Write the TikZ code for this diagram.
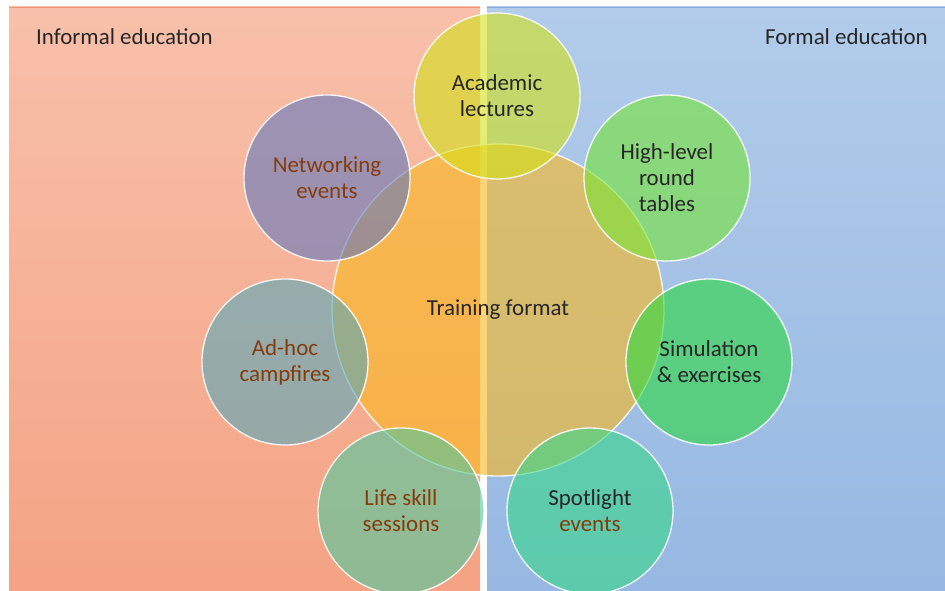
\documentclass[tikz,border=0pt]{standalone}
\usepackage{fontspec}
\setmainfont{Carlito}
\definecolor{dark}{RGB}{38,38,38}
\definecolor{brown}{RGB}{132,60,12}
\definecolor{infTop}{RGB}{248,192,170}
\definecolor{infBot}{RGB}{244,163,132}
\definecolor{forTop}{RGB}{178,204,234}
\definecolor{forBot}{RGB}{150,184,226}
\definecolor{hubC}{RGB}{250,184,30}
\definecolor{acadC}{RGB}{210,225,23}
\definecolor{roundC}{RGB}{117,228,53}
\definecolor{simC}{RGB}{43,217,63}
\definecolor{spotC}{RGB}{55,215,137}
\definecolor{lifeC}{RGB}{78,202,158}
\definecolor{campC}{RGB}{87,168,185}
\definecolor{netC}{RGB}{98,120,190}
\begin{document}
\begin{tikzpicture}[x=1bp, y=-1bp, inner sep=0pt,
      bubble/.style={circle, draw=white, draw opacity=0.9, line width=1.3bp,
        fill opacity=0.6, text opacity=1, align=center, text=dark,
        font=\fontsize{23}{26}\selectfont},
      sat/.style={bubble, minimum size=166bp},
      hub/.style={bubble, minimum size=332bp},
      side/.style={text=dark, font=\fontsize{23}{26}\selectfont}]
      \useasboundingbox (0,0) rectangle (945,591);
      % panels
      \shade[top color=infTop, bottom color=infBot] (9,7) rectangle (480,591);
      \shade[top color=forTop, bottom color=forBot] (487,7) rectangle (945,591);
      \draw[infBot!90!red, line width=0.6bp] (9,7) -- (480,7);
      \draw[forBot!90!blue, line width=0.6bp] (487,7) -- (945,7);
      \node[side, anchor=west] (informal) at (36,37) {Informal education};
      \node[side, anchor=east] (formal) at (928,37) {Formal education};
      % centre
      \node[hub, fill=hubC] (hub) at (498,310) {Training format};
      % bubbles round it
      \node[sat, fill=acadC] (acad) at (497,96) {Academic\\lectures};
      \node[sat, fill=roundC] (round) at (667,178) {High-level\\round\\tables};
      \node[sat, fill=simC] (sim) at (709,362) {Simulation\\\& exercises};
      \node[sat, fill=spotC] (spot) at (590,511) {Spotlight\\\textcolor{brown}{events}};
      \node[sat, fill=lifeC, text=brown] (life) at (401,511) {Life skill\\sessions};
      \node[sat, fill=campC, text=brown] (camp) at (285,362) {Ad-hoc\\campfires};
      \node[sat, fill=netC, text=brown] (net) at (327,178) {Networking\\events};
\end{tikzpicture}
\end{document}
